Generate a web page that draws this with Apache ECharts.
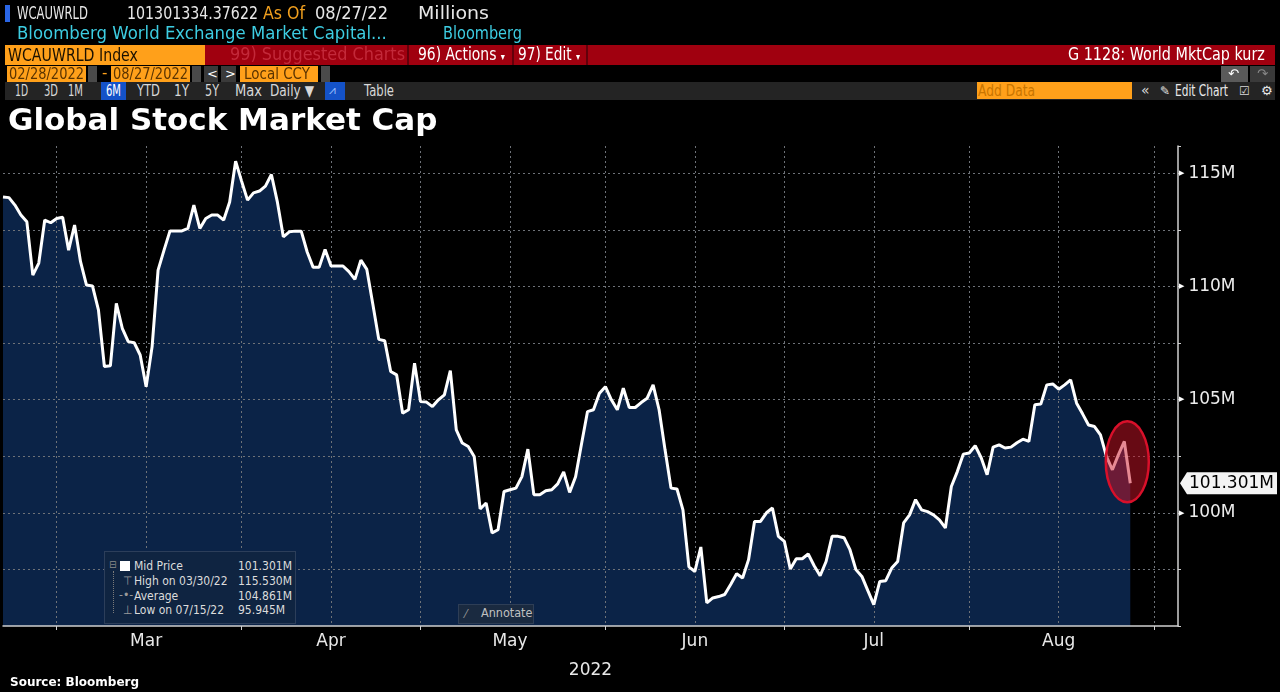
<!DOCTYPE html>
<html><head><meta charset="utf-8">
<script src="https://cdn.jsdelivr.net/npm/echarts/dist/echarts.min.js"></script>
<style>
html,body{margin:0;padding:0;background:#000;width:1280px;height:692px;overflow:hidden;}
#chart{position:absolute;left:0;top:0;width:1280px;height:692px;}
.t{position:absolute;white-space:nowrap;font-family:'DejaVu Sans','Liberation Sans',sans-serif;line-height:1;transform-origin:0 50%;}
.b{position:absolute;}
.lg{position:absolute;white-space:nowrap;font-family:'DejaVu Sans Condensed','Liberation Sans',sans-serif;font-size:12px;line-height:1;color:#dcdcdc;}
</style></head><body>
<div id="chart"></div>

<!-- Bloomberg header chrome -->
<div class="b" style="left:5px;top:5px;width:5px;height:17px;background:#2a66e6"></div>
<div class="t" data-w="71" style="left:17px;top:5px;font-size:17px;color:#e8e8e8">WCAUWRLD</div>
<div class="t" data-w="131" style="left:127px;top:5px;font-size:17px;color:#e8e8e8">101301334.37622</div>
<div class="t" data-w="42" style="left:263px;top:5px;font-size:17px;color:#f2a01e">As Of</div>
<div class="t" data-w="73" style="left:315px;top:5px;font-size:17px;color:#e8e8e8">08/27/22</div>
<div class="t" data-w="71" style="left:418px;top:5px;font-size:17px;color:#e8e8e8">Millions</div>
<div class="t" data-w="370" style="left:17px;top:25px;font-size:17px;color:#3dcde2">Bloomberg World Exchange Market Capital...</div>
<div class="t" data-w="79" style="left:443px;top:25px;font-size:17px;color:#3dcde2">Bloomberg</div>

<div class="b" style="left:5px;top:45px;width:200px;height:20px;background:#ffa01a"></div>
<div class="t" data-w="130" style="left:8px;top:46px;font-size:18px;color:#1a1000">WCAUWRLD Index</div>
<div class="b" style="left:205px;top:45px;width:1070px;height:20px;background:#a0000f"></div>
<div class="b" style="left:407px;top:45px;width:2px;height:20px;background:#62000a"></div>
<div class="b" style="left:512px;top:45px;width:2px;height:20px;background:#62000a"></div>
<div class="b" style="left:586px;top:45px;width:2px;height:20px;background:#62000a"></div>
<div class="t" data-w="175" style="left:230px;top:46px;font-size:17px;color:#c3293a">99) Suggested Charts</div>
<div class="t" data-w="87" style="left:418px;top:46px;font-size:17px;color:#ffffff">96) Actions <span style="font-size:10px">▾</span></div>
<div class="t" data-w="62" style="left:518px;top:46px;font-size:17px;color:#ffffff">97) Edit <span style="font-size:10px">▾</span></div>
<div class="t" data-w="197" style="left:1068px;top:46px;font-size:17px;color:#ffffff">G 1128: World MktCap kurz</div>

<div class="b" style="left:7px;top:66px;width:79px;height:16px;background:#ffa01a"></div>
<div class="t" data-w="75" style="left:9px;top:67px;font-size:15px;color:#5a3300">02/28/2022</div>
<div class="b" style="left:88px;top:66px;width:9px;height:16px;background:#4a4a4a"></div>
<div class="t" style="left:102px;top:66px;font-size:15px;color:#ffa01a">-</div>
<div class="b" style="left:111px;top:66px;width:79px;height:16px;background:#ffa01a"></div>
<div class="t" data-w="75" style="left:113px;top:67px;font-size:15px;color:#5a3300">08/27/2022</div>
<div class="b" style="left:192px;top:66px;width:9px;height:16px;background:#4a4a4a"></div>
<div class="b" style="left:204px;top:66px;width:14px;height:16px;background:#3a3a3a"></div>
<div class="t" style="left:207px;top:67px;font-size:13px;color:#fff">&lt;</div>
<div class="b" style="left:221px;top:66px;width:15px;height:16px;background:#3a3a3a"></div>
<div class="t" style="left:225px;top:67px;font-size:13px;color:#fff">&gt;</div>
<div class="b" style="left:240px;top:66px;width:78px;height:16px;background:#ffa01a"></div>
<div class="t" data-w="66" style="left:244px;top:67px;font-size:15px;color:#5a3300">Local CCY</div>
<div class="b" style="left:321px;top:66px;width:9px;height:16px;background:#4a4a4a"></div>
<div class="b" style="left:1221px;top:66px;width:27px;height:16px;background:#5a5a5a"></div>
<div class="t" style="left:1228px;top:67px;font-size:13px;color:#fff">↶</div>
<div class="b" style="left:1250px;top:66px;width:25px;height:16px;background:#3a3a3a"></div>
<div class="t" style="left:1257px;top:67px;font-size:13px;color:#888">↷</div>

<div class="b" style="left:5px;top:82px;width:1270px;height:18px;background:#242424"></div>
<div class="b" style="left:101px;top:82px;width:25px;height:18px;background:#1452c8"></div>
<div class="b" style="left:325px;top:82px;width:20px;height:18px;background:#1452c8"></div>
<div class="t" data-w="13" style="left:15px;top:84px;font-size:15px;color:#d8d8d8">1D</div>
<div class="t" data-w="14" style="left:44px;top:84px;font-size:15px;color:#d8d8d8">3D</div>
<div class="t" data-w="15" style="left:68px;top:84px;font-size:15px;color:#d8d8d8">1M</div>
<div class="t" data-w="15" style="left:106px;top:84px;font-size:15px;color:#ffffff">6M</div>
<div class="t" data-w="23" style="left:137px;top:84px;font-size:15px;color:#d8d8d8">YTD</div>
<div class="t" data-w="15" style="left:174px;top:84px;font-size:15px;color:#d8d8d8">1Y</div>
<div class="t" data-w="14" style="left:205px;top:84px;font-size:15px;color:#d8d8d8">5Y</div>
<div class="t" data-w="27" style="left:235px;top:84px;font-size:15px;color:#d8d8d8">Max</div>
<div class="t" data-w="44" style="left:270px;top:84px;font-size:15px;color:#d8d8d8">Daily ▼</div>
<div class="t" style="left:329px;top:84px;font-size:12px;color:#9ec0ff">⩘</div>
<div class="t" data-w="30" style="left:364px;top:84px;font-size:15px;color:#d8d8d8">Table</div>
<div class="b" style="left:977px;top:82px;width:155px;height:17px;background:#ffa01a"></div>
<div class="t" data-w="57" style="left:978px;top:84px;font-size:15px;color:#c87500">Add Data</div>
<div class="t" style="left:1141px;top:83px;font-size:14px;color:#d8d8d8">«</div>
<div class="t" style="left:1160px;top:85px;font-size:12px;color:#e8e8e8">✎</div>
<div class="t" data-w="53" style="left:1175px;top:84px;font-size:15px;color:#e8e8e8">Edit Chart</div>
<div class="t" style="left:1239px;top:85px;font-size:12px;color:#d8d8d8">☑</div>
<div class="t" style="left:1261px;top:84px;font-size:13px;color:#e8e8e8">⚙</div>

<!-- legend box -->
<div class="b" style="left:104px;top:551px;width:190px;height:71px;background:#0f2441;border:1px solid #2c3e5a"></div>
<div class="b" style="left:113px;top:571px;width:0;height:42px;border-left:1px dotted #7a7a7a"></div>
<div class="lg" style="left:109px;top:560px;color:#8a8a8a;font-size:10px">⊟</div>
<div class="b" style="left:120px;top:561px;width:10px;height:10px;background:#ffffff"></div>
<div class="lg" style="left:123px;top:575px;color:#9a9a9a">⊤</div>
<div class="lg" style="left:119px;top:589px;color:#9a9a9a">-•-</div>
<div class="lg" style="left:123px;top:604px;color:#9a9a9a">⊥</div>
<div class="lg" id="lg0" style="left:134px;top:560px"></div>
<div class="lg" id="lg1" style="left:134px;top:575px"></div>
<div class="lg" id="lg2" style="left:134px;top:590px"></div>
<div class="lg" id="lg3" style="left:134px;top:604px"></div>
<div class="lg" id="lv0" style="left:238px;top:560px"></div>
<div class="lg" id="lv1" style="left:238px;top:575px"></div>
<div class="lg" id="lv2" style="left:238px;top:590px"></div>
<div class="lg" id="lv3" style="left:238px;top:604px"></div>

<!-- annotate button -->
<div class="b" style="left:458px;top:604px;width:74px;height:18px;background:#1a2a40;border:1px solid #2e3e56"></div>
<div class="lg" style="left:465px;top:608px;color:#9a9a9a">⁄</div>
<div class="lg" style="left:481px;top:607px;color:#c0c0c0;font-size:12.5px">Annotate</div>

<div class="t" style="left:10px;top:676px;font-size:12px;font-weight:bold;color:#ffffff;font-family:'DejaVu Sans',sans-serif">Source: Bloomberg</div>

<script>
// ---- data ----
const firstDate = '2022-02-19';
const lastAxisDate = '2022-09-04';
const monthNames = ['Jan','Feb','Mar','Apr','May','Jun','Jul','Aug','Sep','Oct','Nov','Dec'];
// daily world market cap, millions (Feb 19 .. Aug 27, 2022)
const marketCap = [
 113.95,113.92,113.59,113.15,112.85,110.50,111.03,112.93,112.81,113.00,
 113.05,111.60,112.71,111.09,110.06,110.02,108.96,106.46,106.49,109.25,
 108.15,107.56,107.51,106.97,105.57,107.34,110.72,111.60,112.45,112.45,
 112.45,112.56,113.59,112.56,113.00,113.15,113.15,112.93,113.73,115.53,
 114.65,113.81,114.13,114.21,114.43,114.94,113.73,112.19,112.41,112.44,
 112.44,111.52,110.84,110.84,111.63,110.90,110.90,110.90,110.65,110.31,
 111.16,110.75,109.22,107.66,107.60,106.24,106.09,104.40,104.55,106.61,
 104.91,104.89,104.69,104.99,105.21,106.28,103.66,103.08,102.93,102.49,
 100.17,100.43,99.11,99.25,100.94,101.02,101.09,101.60,102.81,100.80,
 100.80,100.97,101.02,101.28,101.81,100.90,101.59,103.05,104.47,104.55,
 105.28,105.57,104.99,104.55,105.50,104.65,104.65,104.87,105.06,105.65,
 104.55,102.78,101.09,101.05,100.13,97.61,97.41,98.49,96.02,96.24,
 96.30,96.39,96.83,97.31,97.12,97.93,99.62,99.62,100.00,100.21,
 98.96,98.74,97.52,97.97,97.97,98.18,97.66,97.22,97.85,98.96,
 98.96,98.90,98.37,97.49,97.19,96.56,95.945,96.97,97.00,97.56,
 97.85,99.55,99.91,100.58,100.13,100.05,99.91,99.69,99.33,101.16,
 101.82,102.59,102.64,102.96,102.43,101.68,102.90,103.00,102.86,102.90,
 103.09,103.25,103.15,104.77,104.80,105.65,105.69,105.46,105.65,105.87,
 104.84,104.37,103.88,103.81,103.44,102.49,101.90,102.56,103.15,101.301
];
const legendLabels = ['Mid Price','High on 03/30/22','Average','Low on 07/15/22'];
const legendValues = ['101.301M','115.530M','104.861M','95.945M'];
const yMin = 95, yMax = 116.2, yStep = 2.5;
const xAxisYear = '2022';
const chartTitle = 'Global Stock Market Cap';

// category dates
const dates = [];
{
  let d = new Date(firstDate + 'T00:00:00Z');
  const end = new Date(lastAxisDate + 'T00:00:00Z');
  while (d <= end) { dates.push(d.toISOString().slice(0,10)); d = new Date(d.getTime() + 86400000); }
}
function isMonthEnd(s){
  const d = new Date(s + 'T00:00:00Z');
  const n = new Date(d.getTime() + 86400000);
  return n.getUTCMonth() !== d.getUTCMonth();
}
function isMid(s){ return s.slice(8) === '15'; }

legendLabels.forEach((t,i)=>{ document.getElementById('lg'+i).textContent = t; });
legendValues.forEach((t,i)=>{ document.getElementById('lv'+i).textContent = t; });

// fit header texts horizontally to the terminal's narrow font widths
document.querySelectorAll('.t[data-w]').forEach(el => {
  const w = el.getBoundingClientRect().width;
  const target = +el.getAttribute('data-w');
  if (w > 0) el.style.transform = 'scaleX(' + (target / w).toFixed(3) + ')';
});

const FONT = "'DejaVu Sans', sans-serif";
const gridLine = { color: '#6e7278', type: [2,3], width: 1 };

const chart = echarts.init(document.getElementById('chart'));
chart.setOption({
  backgroundColor: '#000',
  animation: false,
  title: { text: chartTitle, left: 3, top: 101, textStyle: { color: '#ffffff', fontSize: 31, fontWeight: 'bold', fontFamily: FONT } },
  grid: { left: 3, right: 102, top: 146, bottom: 66, containLabel: false },
  xAxis: {
    type: 'category', data: dates, boundaryGap: false, z: 3,
    axisLine: { lineStyle: { color: '#d0d0d0', width: 1.5 } },
    axisTick: { show: true, interval: (i, v) => isMonthEnd(v), length: 4, lineStyle: { color: '#d0d0d0' } },
    axisLabel: { interval: (i, v) => isMid(v), formatter: v => monthNames[+v.slice(5,7) - 1],
                 color: '#e8e8e8', fontSize: 17, fontFamily: FONT, margin: 7 },
    splitLine: { show: true, interval: (i, v) => isMonthEnd(v) || isMid(v), lineStyle: gridLine },
    name: xAxisYear, nameLocation: 'middle', nameGap: 36,
    nameTextStyle: { color: '#e8e8e8', fontSize: 17, fontFamily: FONT }
  },
  yAxis: {
    type: 'value', position: 'right', min: yMin, max: yMax, interval: yStep, z: 3,
    axisLine: { show: true, lineStyle: { color: '#d0d0d0', width: 1.5 } },
    axisTick: { show: true, length: 3, lineStyle: { color: '#d0d0d0' } },
    axisLabel: {
      margin: 1, color: '#ececec', fontSize: 17, fontFamily: FONT,
      formatter: v => (Math.abs(v % 5) < 1e-6 && v >= 100) ? '{t|▶}' + v + 'M' : '',
      rich: { t: { fontSize: 7, color: '#ffffff', padding: [0, 4, 0, 0] } }
    },
    splitLine: { show: true, showMaxLine: false, showMinLine: false, lineStyle: gridLine }
  },
  series: [
    { type: 'line', data: marketCap, symbol: 'none', z: 1, silent: true,
      lineStyle: { width: 0 }, areaStyle: { color: '#0b2347', opacity: 1 } },
    { type: 'line', data: marketCap, symbol: 'none', z: 5, silent: true,
      lineStyle: { color: '#ffffff', width: 3 } }
  ]
});

// last-value tag and highlight ellipse, positioned through the chart's own scales
const lastIdx = marketCap.length - 1;
const lastVal = marketCap[lastIdx];
const pLast = chart.convertToPixel({ seriesIndex: 1 }, [lastIdx, lastVal]);
const pPrev = chart.convertToPixel({ seriesIndex: 1 }, [lastIdx - 1, 102.25]);
const axisX = chart.convertToPixel({ xAxisIndex: 0 }, dates[dates.length - 1]);
const ly = pLast[1];
chart.setOption({
  graphic: [
    { type: 'ellipse', z: 100, silent: true,
      shape: { cx: (pPrev[0] + pLast[0]) / 2, cy: pPrev[1], rx: 21.5, ry: 40.5 },
      style: { fill: 'rgba(205,20,40,0.5)', stroke: '#d8102a', lineWidth: 2.5 } },
    { type: 'polygon', z: 100, silent: true,
      shape: { points: [[axisX + 2, ly], [axisX + 9, ly - 11], [1277, ly - 11], [1277, ly + 11], [axisX + 9, ly + 11]] },
      style: { fill: '#f4f4f4' } },
    { type: 'text', z: 101, silent: true, x: axisX + 11, y: ly,
      style: { text: lastVal.toFixed(3) + 'M', fill: '#000000', fontSize: 17, fontFamily: FONT, verticalAlign: 'middle' } }
  ]
});
</script>
</body></html>
